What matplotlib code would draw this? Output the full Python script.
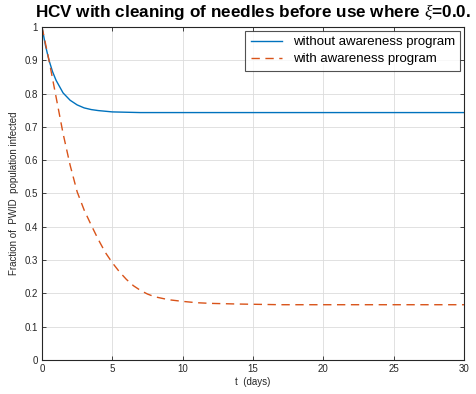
import matplotlib
matplotlib.use("Agg")
import matplotlib.pyplot as plt

# Data
t_without = [0, 0.25, 0.5, 0.75, 1, 1.5, 2, 2.5, 3, 3.5, 4, 5, 6, 7, 8, 10, 30]
v_without = [1.0, 0.944, 0.900, 0.866, 0.840, 0.802, 0.780, 0.766, 0.757, 0.752,
             0.749, 0.745, 0.744, 0.743, 0.743, 0.743, 0.743]

t_with = [0, 0.5, 1.0, 1.5, 2.0, 2.5, 3.0, 3.5, 4.0, 4.5, 5.0, 5.5, 6.0, 6.5, 7.0,
          7.5, 8.0, 9.0, 10, 11, 12, 14, 17, 20, 25, 30]
v_with = [1.0, 0.90, 0.79, 0.68, 0.585, 0.505, 0.45, 0.405, 0.362, 0.323, 0.292,
          0.265, 0.242, 0.223, 0.209, 0.198, 0.19, 0.181, 0.176, 0.172, 0.17, 0.168,
          0.166, 0.166, 0.166, 0.166]

x_ticks = [0, 5, 10, 15, 20, 25, 30]
y_ticks = [0, 0.1, 0.2, 0.3, 0.4, 0.5, 0.6, 0.7, 0.8, 0.9, 1]
y_tick_labels = ["0", "0.1", "0.2", "0.3", "0.4", "0.5", "0.6", "0.7", "0.8", "0.9", "1"]

plt.rcParams['font.family'] = ['Liberation Sans', 'DejaVu Sans']
plt.rcParams['mathtext.fontset'] = 'custom'
plt.rcParams['mathtext.it'] = 'Liberation Serif:italic'
plt.rcParams['mathtext.rm'] = 'Liberation Sans'

fig = plt.figure(figsize=(4.77, 3.94), dpi=100)
ax = fig.add_axes([0.088, 0.0863, 0.885, 0.8452])

ax.plot(t_without, v_without, color='#0072BD', lw=1.0, label='without awareness program')
ax.plot(t_with, v_with, color='#D95319', lw=1.0, dashes=(6, 4), label='with awareness program')

ax.set_xlim(0, 30)
ax.set_ylim(0, 1)
ax.set_xticks(x_ticks)
ax.set_yticks(y_ticks)
ax.set_yticklabels(y_tick_labels)

dark = '#262626'
ax.tick_params(direction='in', top=True, right=True, length=3, width=0.6,
               labelsize=7, colors=dark, pad=3)
for s in ax.spines.values():
    s.set_color(dark)
    s.set_linewidth(0.8)
ax.grid(True, color='#dcdcdc', lw=0.6)
ax.set_axisbelow(True)

ax.set_xlabel('t  (days)', fontsize=7, color=dark, labelpad=2)
ax.set_ylabel('Fraction of  PWID  population infected', fontsize=7, color=dark, labelpad=4)
ax.set_title(r'HCV with cleaning of needles before use where $\xi$=0.0.',
             fontsize=12.3, fontweight='bold', pad=7)

leg = ax.legend(loc='upper right', fontsize=9.5, frameon=True, fancybox=False,
                edgecolor=dark, borderpad=0.4, labelspacing=0.35, handlelength=2.4,
                handletextpad=0.8, borderaxespad=0.3)
leg.get_frame().set_linewidth(0.8)

fig.savefig('out.png', dpi=100)
